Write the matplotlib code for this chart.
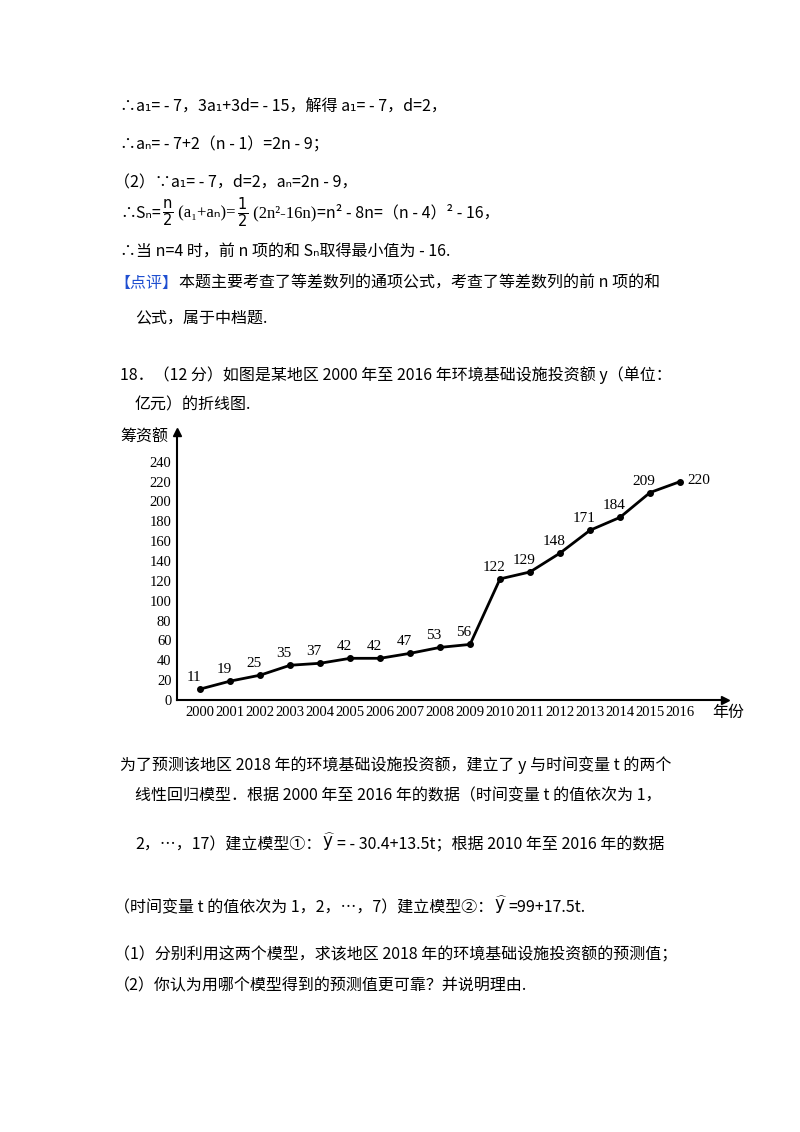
import matplotlib

matplotlib.use("Agg")
import matplotlib.pyplot as plt

years = list(range(2000, 2017))
amounts = [11, 19, 25, 35, 37, 42, 42, 47, 53, 56, 122, 129, 148, 171, 184, 209, 220]
y_ticks = list(range(0, 241, 20))

CJK = ["Noto Sans CJK SC", "DejaVu Sans"]
SERIF = ["Liberation Serif", "DejaVu Sans"]
W, H = 800, 1132
FS = 11.5

fig = plt.figure(figsize=(8, 11.32), dpi=100)
fig.patch.set_facecolor("white")
renderer = fig.canvas.get_renderer()


def put(x, y, s, size=FS, color="black", family=CJK, dy=0):
    # x, y in pixels from top-left; returns right edge in pixels
    t = fig.text(x / W, 1 - (y + dy) / H, s, fontsize=size, color=color,
                 family=family, va="center", ha="left")
    return t.get_window_extent(renderer).x1


def chain(x, y, pieces):
    for p in pieces:
        s = p[0]
        kw = p[1] if len(p) > 1 else {}
        x = put(x, y, s, **kw) + 1


chain(120, 107, [("∴a₁= - 7，3a₁+3d= - 15，解得 a₁= - 7，d=2，",)])
chain(120, 145, [("∴aₙ= - 7+2（n - 1）=2n - 9；",)])
chain(114, 183, [("（2）∵a₁= - 7，d=2，aₙ=2n - 9，",)])
chain(120, 213, [
    ("∴Sₙ=",),
    (r"$\frac{\mathrm{n}}{2}$", {"size": 15, "family": SERIF}),
    (" (a₁+aₙ)=", {"size": 12, "family": SERIF}),
    (r"$\frac{1}{2}$", {"size": 15, "family": SERIF}),
    (" (2n²-16n)", {"size": 12, "family": SERIF}),
    ("=n² - 8n=（n - 4）² - 16，",),
])
chain(120, 251, [("∴当 n=4 时，前 n 项的和 Sₙ取得最小值为 - 16.",)])
chain(114, 283, [("【点评】", {"color": "#1f4fd0"}),
                 ("本题主要考查了等差数列的通项公式，考查了等差数列的前 n 项的和",)])
chain(135, 318, [("公式，属于中档题.",)])
chain(120, 375, [("18．（12 分）如图是某地区 2000 年至 2016 年环境基础设施投资额 y（单位：",)])
chain(135, 405, [("亿元）的折线图.",)])

# the line chart
ax = fig.add_axes([177 / W, 1 - 700 / H, 548 / W, 268 / H])
ax.plot(years, amounts, color="black", linewidth=2, marker="o", markersize=4)
for yr, v in zip(years, amounts):
    if yr == 2016:
        ax.text(yr + 0.25, v + 1, str(v), fontsize=11, family=SERIF, ha="left", va="center")
    else:
        ax.text(yr - 0.2, v + 5, str(v), fontsize=11, family=SERIF, ha="center", va="bottom")
ax.set_xlim(1999.23, 2017.5)
ax.set_ylim(0, 270)
ax.set_xticks(years)
ax.set_xticklabels([str(y) for y in years], family=SERIF, fontsize=10.5)
ax.set_yticks(y_ticks)
ax.set_yticklabels([str(v) for v in y_ticks], family=SERIF, fontsize=10.5)
ax.tick_params(length=0, pad=4)
for side in ("top", "right"):
    ax.spines[side].set_visible(False)
for side in ("left", "bottom"):
    ax.spines[side].set_linewidth(1.5)
ax.plot(1, 0, ">k", transform=ax.transAxes, clip_on=False, markersize=6)
ax.plot(0, 1, "^k", transform=ax.transAxes, clip_on=False, markersize=6)
ax.patch.set_alpha(0)
put(120, 437, "筹资额", size=11.5)
put(712, 712, "年份", size=11.5)

# question text below the chart
chain(120, 765, [("为了预测该地区 2018 年的环境基础设施投资额，建立了 y 与时间变量 t 的两个",)])
chain(135, 796, [("线性回归模型．根据 2000 年至 2016 年的数据（时间变量 t 的值依次为 1，",)])
chain(135, 845, [
    ("2，…，17）建立模型①：",),
    (r"$\widehat{\mathrm{y}}$", {"size": 12, "dy": -3}),
    ("= - 30.4+13.5t；根据 2010 年至 2016 年的数据",),
])
chain(114, 908, [
    ("（时间变量 t 的值依次为 1，2，…，7）建立模型②：",),
    (r"$\widehat{\mathrm{y}}$", {"size": 12, "dy": -3}),
    ("=99+17.5t.",),
])
chain(114, 955, [("（1）分别利用这两个模型，求该地区 2018 年的环境基础设施投资额的预测值；",)])
chain(114, 986, [("（2）你认为用哪个模型得到的预测值更可靠？并说明理由.",)])

fig.savefig("out.png", dpi=100)
